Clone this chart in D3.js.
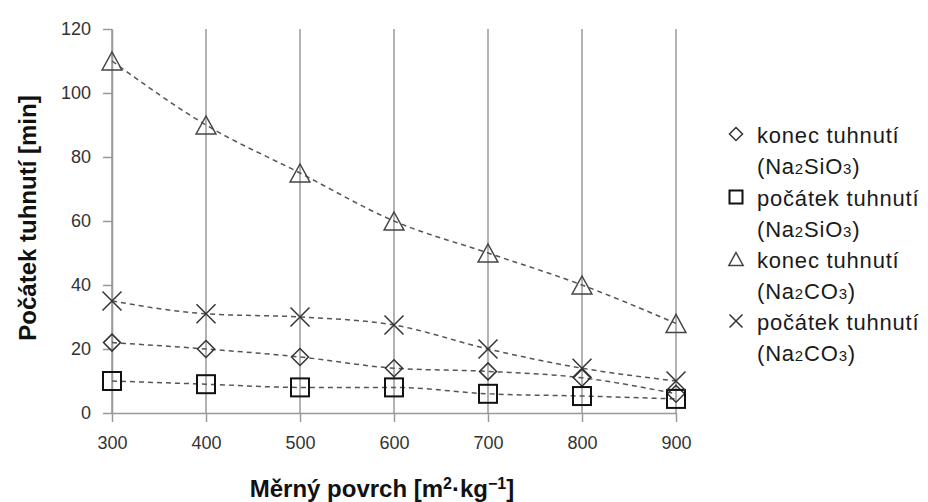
<!DOCTYPE html>
<head>
    <meta charset="utf-8">
    <script src="https://d3js.org/d3.v7.min.js"></script>
    <style>
        body { margin: 0; background: #fff; }
        text { font-family: "Liberation Sans", Arial, sans-serif; }
    </style>
</head>
<div id="my_dataviz"></div>
<script>
// surface values [m2/kg]
var povrch = [300, 400, 500, 600, 700, 800, 900];
// setting times [min]
var konecSiO3 = [22, 20, 17.5, 14, 13, 11, 6];
var pocatekSiO3 = [10, 9, 8, 8, 6, 5.3, 4.4];
var konecCO3 = [110, 90, 75, 60, 50, 40, 28];
var pocatekCO3 = [35, 31, 30, 27.5, 20, 14, 10];
var yTicks = [0, 20, 40, 60, 80, 100, 120];

var series = [
    { name: "konec tuhnutí", sub: "Si", values: konecSiO3, sym: "diamond" },
    { name: "počátek tuhnutí", sub: "Si", values: pocatekSiO3, sym: "square" },
    { name: "konec tuhnutí", sub: "C", values: konecCO3, sym: "triangle" },
    { name: "počátek tuhnutí", sub: "C", values: pocatekCO3, sym: "cross" }
];

var width = 928, height = 502;

var svg = d3.select("#my_dataviz")
    .append("svg")
    .attr("width", width)
    .attr("height", height);

var x = d3.scaleLinear().domain([300, 900]).range([112, 676]);
var y = d3.scaleLinear().domain([0, 120]).range([413, 29]);

// vertical grid lines
svg.selectAll("grid")
    .data(povrch)
    .enter()
    .append("line")
    .attr("x1", function(d) { return x(d) })
    .attr("x2", function(d) { return x(d) })
    .attr("y1", y(120))
    .attr("y2", y(0))
    .attr("stroke", "#999")
    .attr("stroke-width", 1.5)

// axes
var yAxis = svg.append("g")
    .attr("transform", "translate(" + x(300) + ",0)")
    .call(d3.axisLeft(y).tickValues(yTicks).tickSize(9).tickSizeOuter(0).tickPadding(12));

var xAxis = svg.append("g")
    .attr("transform", "translate(0," + y(0) + ")")
    .call(d3.axisBottom(x).tickValues(povrch).tickSize(9).tickSizeOuter(0).tickPadding(14));

[yAxis, xAxis].forEach(function(g) {
    g.select(".domain").attr("stroke", "#999").attr("stroke-width", 1.5);
    g.selectAll(".tick line").attr("stroke", "#999").attr("stroke-width", 1.5);
    g.selectAll(".tick text")
        .attr("fill", "#333")
        .style("font-size", "18px")
        .style("font-family", "'Liberation Sans', Arial, sans-serif");
});

// dashed trend lines
var line = d3.line()
    .x(function(d, i) { return x(povrch[i]) })
    .y(function(d) { return y(d) })
    .curve(d3.curveMonotoneX);

svg.selectAll("trend")
    .data(series)
    .enter()
    .append("path")
    .attr("d", function(d) { return line(d.values) })
    .attr("fill", "none")
    .attr("stroke", "#555")
    .attr("stroke-width", 1.5)
    .attr("stroke-dasharray", "5,4")

// marker shapes
function marker(g, sym, s) {
    if (sym == "diamond") {
        g.append("path")
            .attr("d", "M0," + (-s) + "L" + s + ",0L0," + s + "L" + (-s) + ",0Z")
            .attr("fill", "none").attr("stroke", "#333").attr("stroke-width", 1.5);
    } else if (sym == "square") {
        g.append("rect")
            .attr("x", -s).attr("y", -s).attr("width", 2 * s).attr("height", 2 * s)
            .attr("fill", "none").attr("stroke", "#111").attr("stroke-width", 2);
    } else if (sym == "triangle") {
        g.append("path")
            .attr("d", "M0," + (-s) + "L" + (s * 1.1) + "," + s + "L" + (-s * 1.1) + "," + s + "Z")
            .attr("fill", "none").attr("stroke", "#444").attr("stroke-width", 1.5);
    } else {
        g.append("path")
            .attr("d", "M" + (-s) + "," + (-s) + "L" + s + "," + s + "M" + s + "," + (-s) + "L" + (-s) + "," + s)
            .attr("fill", "none").attr("stroke", "#333").attr("stroke-width", 1.5);
    }
}

var sizes = { diamond: 8.5, square: 9, triangle: 9, cross: 9.5 };

series.forEach(function(s) {
    s.values.forEach(function(v, i) {
        var g = svg.append("g").attr("transform", "translate(" + x(povrch[i]) + "," + y(v) + ")");
        marker(g, s.sym, sizes[s.sym]);
    });
});

// axis titles
svg.append("text")
    .attr("transform", "translate(36," + 218 + ") rotate(-90)")
    .attr("text-anchor", "middle")
    .attr("fill", "#111")
    .style("font-size", "24px")
    .style("font-weight", "bold")
    .text("Počátek tuhnutí [min]");

var xt = svg.append("text")
    .attr("x", 382)
    .attr("y", 497)
    .attr("text-anchor", "middle")
    .attr("fill", "#111")
    .style("font-size", "24px")
    .style("font-weight", "bold");
xt.append("tspan").text("Měrný povrch [m");
xt.append("tspan").attr("dy", -8).style("font-size", "16px").text("2");
xt.append("tspan").attr("dy", 8).text("·kg");
xt.append("tspan").attr("dy", -8).style("font-size", "16px").text("−1");
xt.append("tspan").attr("dy", 8).text("]");

// legend
var legendY = [143, 206, 268, 330];
series.forEach(function(s, i) {
    var g = svg.append("g").attr("transform", "translate(736," + (legendY[i] - 9) + ")");
    marker(g, s.sym, 6.5);
    svg.append("text")
        .attr("x", 757).attr("y", legendY[i])
        .attr("fill", "#1a1a1a")
        .style("font-size", "22px")
        .style("letter-spacing", "0.8px")
        .text(s.name);
    var t = svg.append("text")
        .attr("x", 757).attr("y", legendY[i] + 31)
        .attr("fill", "#1a1a1a")
        .style("font-size", "22px")
        .style("letter-spacing", "0.8px");
    t.append("tspan").text("(Na");
    t.append("tspan").style("font-size", "15px").text("2");
    t.append("tspan").text(s.sub == "Si" ? "SiO" : "CO");
    t.append("tspan").style("font-size", "15px").text("3");
    t.append("tspan").text(")");
});
</script>
